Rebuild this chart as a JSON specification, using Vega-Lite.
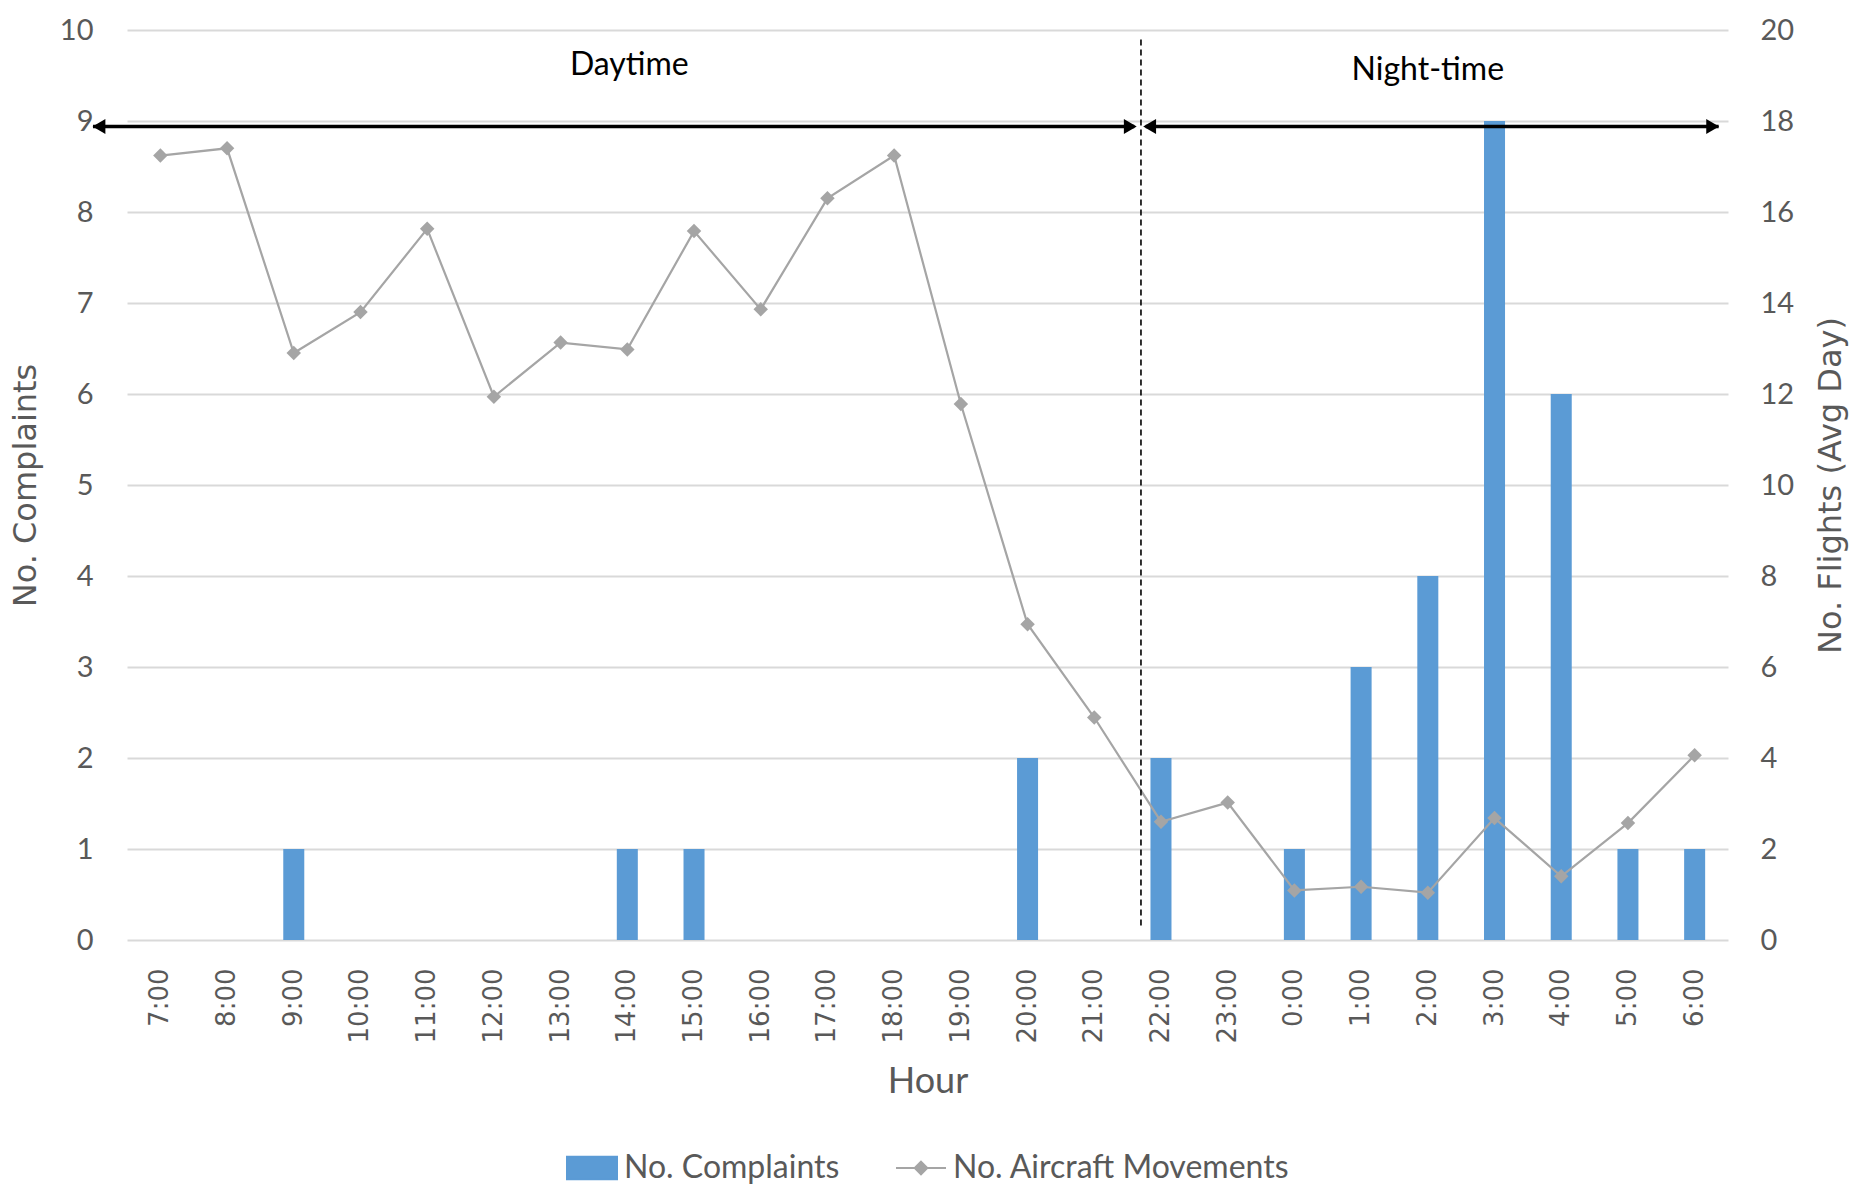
{
  "$schema": "https://vega.github.io/schema/vega-lite/v6.json",
  "width": 1601,
  "height": 910,
  "autosize": "none",
  "padding": {"left": 127, "top": 30, "right": 134, "bottom": 244},
  "background": "white",
  "config": {"view": {"stroke": null}, "font": "Lato"},
  "datasets": {
    "hours": [
      {"hour": "7:00", "complaints": 0, "flights": 17.24},
      {"hour": "8:00", "complaints": 0, "flights": 17.4},
      {"hour": "9:00", "complaints": 1, "flights": 12.9},
      {"hour": "10:00", "complaints": 0, "flights": 13.8},
      {"hour": "11:00", "complaints": 0, "flights": 15.63},
      {"hour": "12:00", "complaints": 0, "flights": 11.94},
      {"hour": "13:00", "complaints": 0, "flights": 13.13},
      {"hour": "14:00", "complaints": 1, "flights": 12.98},
      {"hour": "15:00", "complaints": 1, "flights": 15.58},
      {"hour": "16:00", "complaints": 0, "flights": 13.86},
      {"hour": "17:00", "complaints": 0, "flights": 16.3},
      {"hour": "18:00", "complaints": 0, "flights": 17.24},
      {"hour": "19:00", "complaints": 0, "flights": 11.78},
      {"hour": "20:00", "complaints": 2, "flights": 6.94},
      {"hour": "21:00", "complaints": 0, "flights": 4.89},
      {"hour": "22:00", "complaints": 2, "flights": 2.6},
      {"hour": "23:00", "complaints": 0, "flights": 3.02},
      {"hour": "0:00", "complaints": 1, "flights": 1.09},
      {"hour": "1:00", "complaints": 3, "flights": 1.17},
      {"hour": "2:00", "complaints": 4, "flights": 1.04},
      {"hour": "3:00", "complaints": 9, "flights": 2.68},
      {"hour": "4:00", "complaints": 6, "flights": 1.4},
      {"hour": "5:00", "complaints": 1, "flights": 2.57},
      {"hour": "6:00", "complaints": 1, "flights": 4.06}
    ],
    "divider": [{"slot": 15.2, "y0": 0.16, "y1": 9.9}],
    "arrows": [
      {"x0": -0.51, "x1": 15.1, "y": 8.94},
      {"x0": 15.27, "x1": 23.86, "y": 8.94}
    ],
    "heads": [
      {"slot": -0.42, "y": 8.94, "dir": "triangle-left"},
      {"slot": 15.04, "y": 8.94, "dir": "triangle-right"},
      {"slot": 15.33, "y": 8.94, "dir": "triangle-left"},
      {"slot": 23.77, "y": 8.94, "dir": "triangle-right"}
    ],
    "periods": [
      {"slot": 7.53, "y": 9.61, "label": "Daytime"},
      {"slot": 19.5, "y": 9.56, "label": "Night-time"}
    ]
  },
  "layer": [
    {
      "data": {"name": "hours"},
      "mark": {"type": "bar"},
      "encoding": {
        "x": {
          "field": "hour",
          "type": "nominal",
          "sort": null,
          "scale": {
            "domain": ["7:00","8:00","9:00","10:00","11:00","12:00","13:00","14:00","15:00","16:00","17:00","18:00","19:00","20:00","21:00","22:00","23:00","0:00","1:00","2:00","3:00","4:00","5:00","6:00"],
            "paddingInner": 0.685,
            "paddingOuter": 0.3425
          },
          "axis": {
            "title": "Hour",
            "labelAngle": 270,
            "labelFont": "DejaVu Sans",
            "labelFontSize": 26,
            "labelColor": "#595959",
            "labelPadding": 28,
            "ticks": false,
            "domain": false,
            "titleFont": "Lato",
            "titleFontSize": 36,
            "titleFontWeight": "normal",
            "titleColor": "#595959",
            "titlePadding": 22
          }
        },
        "y": {
          "field": "complaints",
          "type": "quantitative",
          "scale": {"domain": [0, 10], "nice": false},
          "axis": {
            "title": "No. Complaints",
            "values": [0, 1, 2, 3, 4, 5, 6, 7, 8, 9, 10],
            "grid": true,
            "gridColor": "#d9d9d9",
            "gridWidth": 2,
            "domain": false,
            "ticks": false,
            "labelFont": "Lato",
            "labelFontSize": 29,
            "labelColor": "#595959",
            "labelPadding": 34,
            "titleFont": "DejaVu Sans",
            "titleFontSize": 32,
            "titleFontWeight": "normal",
            "titleColor": "#595959",
            "titlePadding": 17
          }
        },
        "color": {
          "datum": "No. Complaints",
          "type": "nominal",
          "scale": {
            "domain": ["No. Complaints", "No. Aircraft Movements"],
            "range": ["#5b9bd5", "#a5a5a5"]
          },
          "legend": {
            "title": null,
            "orient": "none",
            "direction": "horizontal",
            "legendX": 439,
            "legendY": 1112,
            "labelFont": "Lato",
            "labelFontSize": 32,
            "labelColor": "#595959",
            "labelLimit": 0,
            "labelOffset": 6,
            "columnPadding": 52,
            "symbolSize": 2500,
            "encode": {
              "symbols": {
                "update": {
                  "shape": {"signal": "datum.value === 'No. Complaints' ? 'M-1,-0.45H1V0.45H-1Z' : 'M-1,0H1M0,-0.25L0.25,0L0,0.25L-0.25,0Z'"},
                  "fill": {"signal": "datum.value === 'No. Complaints' ? '#5b9bd5' : '#a5a5a5'"},
                  "stroke": {"signal": "datum.value === 'No. Complaints' ? '#5b9bd5' : '#a5a5a5'"},
                  "strokeWidth": {"value": 2},
                  "opacity": {"value": 1},
                  "fillOpacity": {"value": 1}
                }
              }
            }
          }
        }
      }
    },
    {
      "data": {"name": "hours"},
      "mark": {
        "type": "line",
        "strokeWidth": 2.2,
        "point": {"shape": "diamond", "size": 210, "filled": true}
      },
      "encoding": {
        "x": {
          "field": "hour",
          "type": "nominal",
          "sort": null,
          "scale": {
            "domain": ["7:00","8:00","9:00","10:00","11:00","12:00","13:00","14:00","15:00","16:00","17:00","18:00","19:00","20:00","21:00","22:00","23:00","0:00","1:00","2:00","3:00","4:00","5:00","6:00"],
            "paddingInner": 0.685,
            "paddingOuter": 0.3425
          },
          "axis": null
        },
        "y": {
          "field": "flights",
          "type": "quantitative",
          "scale": {"domain": [0, 20], "nice": false},
          "axis": {
            "orient": "right",
            "title": "No. Flights (Avg Day)",
            "titleAngle": 270,
            "titleBaseline": "top",
            "values": [0, 2, 4, 6, 8, 10, 12, 14, 16, 18, 20],
            "grid": false,
            "domain": false,
            "ticks": false,
            "labelFont": "Lato",
            "labelFontSize": 29,
            "labelColor": "#595959",
            "labelPadding": 32,
            "titleFont": "DejaVu Sans",
            "titleFontSize": 32,
            "titleFontWeight": "normal",
            "titleColor": "#595959",
            "titlePadding": 22
          }
        },
        "color": {"datum": "No. Aircraft Movements", "type": "nominal"}
      }
    },
    {
      "data": {"name": "divider"},
      "mark": {"type": "rule", "color": "black", "strokeWidth": 1.6, "strokeDash": [6, 4]},
      "encoding": {
        "x": {"field": "slot", "type": "quantitative", "scale": {"domain": [0, 24], "nice": false, "zero": false}, "axis": null},
        "y": {"field": "y0", "type": "quantitative", "scale": {"domain": [0, 10], "nice": false}, "axis": null},
        "y2": {"field": "y1"}
      }
    },
    {
      "data": {"name": "arrows"},
      "mark": {"type": "rule", "color": "black", "strokeWidth": 3.5},
      "encoding": {
        "x": {"field": "x0", "type": "quantitative", "scale": {"domain": [0, 24], "nice": false, "zero": false}, "axis": null},
        "x2": {"field": "x1"},
        "y": {"field": "y", "type": "quantitative", "scale": {"domain": [0, 10], "nice": false}, "axis": null}
      }
    },
    {
      "data": {"name": "heads"},
      "mark": {"type": "point", "filled": true, "color": "black", "opacity": 1, "size": 220},
      "encoding": {
        "x": {"field": "slot", "type": "quantitative", "scale": {"domain": [0, 24], "nice": false, "zero": false}, "axis": null},
        "y": {"field": "y", "type": "quantitative", "scale": {"domain": [0, 10], "nice": false}, "axis": null},
        "shape": {"field": "dir", "type": "nominal", "scale": null, "legend": null}
      }
    },
    {
      "data": {"name": "periods"},
      "mark": {"type": "text", "font": "Lato", "fontSize": 32, "color": "black", "baseline": "middle", "align": "center"},
      "encoding": {
        "x": {"field": "slot", "type": "quantitative", "scale": {"domain": [0, 24], "nice": false, "zero": false}, "axis": null},
        "y": {"field": "y", "type": "quantitative", "scale": {"domain": [0, 10], "nice": false}, "axis": null},
        "text": {"field": "label"}
      }
    }
  ],
  "resolve": {"scale": {"x": "independent", "y": "independent"}}
}
